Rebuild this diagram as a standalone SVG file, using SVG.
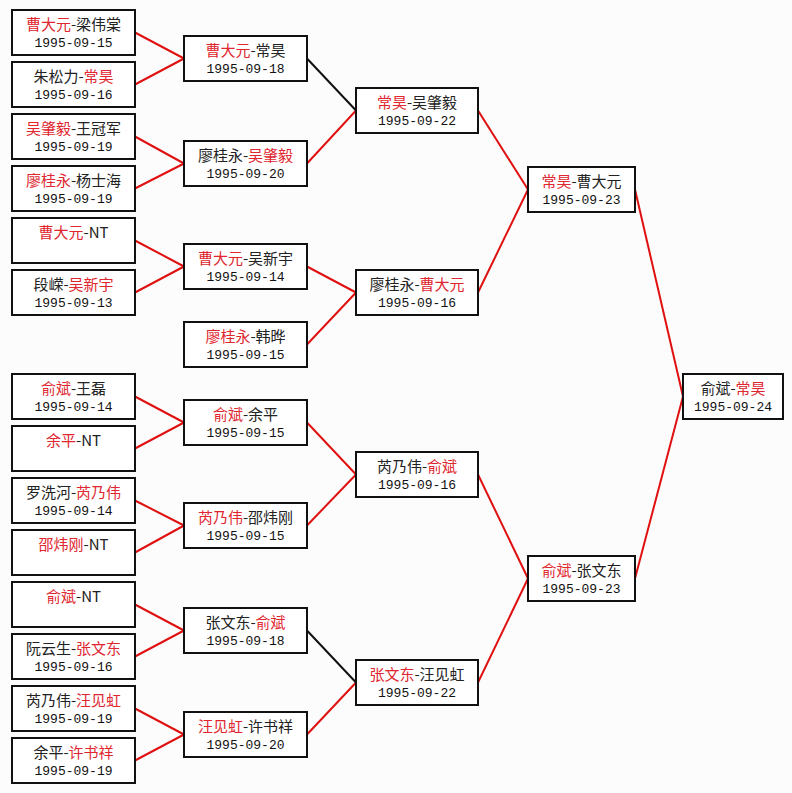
<svg xmlns="http://www.w3.org/2000/svg" width="792" height="793" viewBox="0 0 792 793">
<style>
.bg{fill:#fcfcfc}
.box{fill:#ffffff;stroke:#111111;stroke-width:2}
.nm{font-family:"Noto Sans CJK SC","Noto Sans",sans-serif;font-size:15px;fill:#222222;text-anchor:middle}
.dt{font-family:"Liberation Mono","DejaVu Sans Mono",monospace;font-size:13px;fill:#111111;text-anchor:middle}
.r{fill:#e0262f}
.cr line{stroke:#e01010;stroke-width:2}
.cb line{stroke:#111111;stroke-width:2}
</style>
<rect class="bg" x="0" y="0" width="792" height="793"/>
<g id="connectors">
<g class="cr">
<line x1="135" y1="32.5" x2="184" y2="58.5"/><line x1="135" y1="84.5" x2="184" y2="58.5"/>
<line x1="135" y1="136.5" x2="184" y2="163.5"/><line x1="135" y1="188.5" x2="184" y2="163.5"/>
<line x1="135" y1="240.5" x2="184" y2="266.5"/><line x1="135" y1="292.5" x2="184" y2="266.5"/>
<line x1="135" y1="396.5" x2="184" y2="422.5"/><line x1="135" y1="448.5" x2="184" y2="422.5"/>
<line x1="135" y1="500.5" x2="184" y2="525.5"/><line x1="135" y1="552.5" x2="184" y2="525.5"/>
<line x1="135" y1="604.5" x2="184" y2="630.5"/><line x1="135" y1="656.5" x2="184" y2="630.5"/>
<line x1="135" y1="708.5" x2="184" y2="734.5"/><line x1="135" y1="760.5" x2="184" y2="734.5"/>
<line x1="307" y1="163.5" x2="356" y2="110.5"/>
<line x1="307" y1="266.5" x2="356" y2="292.5"/><line x1="307" y1="344.5" x2="356" y2="292.5"/>
<line x1="307" y1="422.5" x2="356" y2="474.5"/><line x1="307" y1="525.5" x2="356" y2="474.5"/>
<line x1="307" y1="734.5" x2="356" y2="682.5"/>
<line x1="478" y1="110.5" x2="528" y2="189.5"/><line x1="478" y1="292.5" x2="528" y2="189.5"/>
<line x1="478" y1="474.5" x2="528" y2="578.5"/><line x1="478" y1="682.5" x2="528" y2="578.5"/>
<line x1="635" y1="189.5" x2="683" y2="396.5"/><line x1="635" y1="578.5" x2="683" y2="396.5"/>
</g>
<g class="cb">
<line x1="307" y1="58.5" x2="356" y2="110.5"/>
<line x1="307" y1="630.5" x2="356" y2="682.5"/>
</g>
</g>
<g id="r1-1"><rect class="box" x="12" y="10" width="123" height="45"/><text class="nm" x="73.5" y="30"><tspan class="r">曹大元</tspan>-梁伟棠</text><text class="dt" x="73.5" y="47">1995-09-15</text></g>
<g id="r1-2"><rect class="box" x="12" y="62" width="123" height="45"/><text class="nm" x="73.5" y="82">朱松力-<tspan class="r">常昊</tspan></text><text class="dt" x="73.5" y="99">1995-09-16</text></g>
<g id="r1-3"><rect class="box" x="12" y="114" width="123" height="45"/><text class="nm" x="73.5" y="134"><tspan class="r">吴肇毅</tspan>-王冠军</text><text class="dt" x="73.5" y="151">1995-09-19</text></g>
<g id="r1-4"><rect class="box" x="12" y="166" width="123" height="45"/><text class="nm" x="73.5" y="186"><tspan class="r">廖桂永</tspan>-杨士海</text><text class="dt" x="73.5" y="203">1995-09-19</text></g>
<g id="r1-5"><rect class="box" x="12" y="218" width="123" height="45"/><text class="nm" x="73.5" y="238"><tspan class="r">曹大元</tspan>-NT</text></g>
<g id="r1-6"><rect class="box" x="12" y="270" width="123" height="45"/><text class="nm" x="73.5" y="290">段嵘-<tspan class="r">吴新宇</tspan></text><text class="dt" x="73.5" y="307">1995-09-13</text></g>
<g id="r1-7"><rect class="box" x="12" y="374" width="123" height="45"/><text class="nm" x="73.5" y="394"><tspan class="r">俞斌</tspan>-王磊</text><text class="dt" x="73.5" y="411">1995-09-14</text></g>
<g id="r1-8"><rect class="box" x="12" y="426" width="123" height="45"/><text class="nm" x="73.5" y="446"><tspan class="r">余平</tspan>-NT</text></g>
<g id="r1-9"><rect class="box" x="12" y="478" width="123" height="45"/><text class="nm" x="73.5" y="498">罗洗河-<tspan class="r">芮乃伟</tspan></text><text class="dt" x="73.5" y="515">1995-09-14</text></g>
<g id="r1-10"><rect class="box" x="12" y="530" width="123" height="45"/><text class="nm" x="73.5" y="550"><tspan class="r">邵炜刚</tspan>-NT</text></g>
<g id="r1-11"><rect class="box" x="12" y="582" width="123" height="45"/><text class="nm" x="73.5" y="602"><tspan class="r">俞斌</tspan>-NT</text></g>
<g id="r1-12"><rect class="box" x="12" y="634" width="123" height="45"/><text class="nm" x="73.5" y="654">阮云生-<tspan class="r">张文东</tspan></text><text class="dt" x="73.5" y="671">1995-09-16</text></g>
<g id="r1-13"><rect class="box" x="12" y="686" width="123" height="45"/><text class="nm" x="73.5" y="706">芮乃伟-<tspan class="r">汪见虹</tspan></text><text class="dt" x="73.5" y="723">1995-09-19</text></g>
<g id="r1-14"><rect class="box" x="12" y="738" width="123" height="45"/><text class="nm" x="73.5" y="758">余平-<tspan class="r">许书祥</tspan></text><text class="dt" x="73.5" y="775">1995-09-19</text></g>
<g id="r2-1"><rect class="box" x="184" y="36" width="123" height="45"/><text class="nm" x="245.5" y="56"><tspan class="r">曹大元</tspan>-常昊</text><text class="dt" x="245.5" y="73">1995-09-18</text></g>
<g id="r2-2"><rect class="box" x="184" y="141" width="123" height="45"/><text class="nm" x="245.5" y="161">廖桂永-<tspan class="r">吴肇毅</tspan></text><text class="dt" x="245.5" y="178">1995-09-20</text></g>
<g id="r2-3"><rect class="box" x="184" y="244" width="123" height="45"/><text class="nm" x="245.5" y="264"><tspan class="r">曹大元</tspan>-吴新宇</text><text class="dt" x="245.5" y="281">1995-09-14</text></g>
<g id="r2-4"><rect class="box" x="184" y="322" width="123" height="45"/><text class="nm" x="245.5" y="342"><tspan class="r">廖桂永</tspan>-韩晔</text><text class="dt" x="245.5" y="359">1995-09-15</text></g>
<g id="r2-5"><rect class="box" x="184" y="400" width="123" height="45"/><text class="nm" x="245.5" y="420"><tspan class="r">俞斌</tspan>-余平</text><text class="dt" x="245.5" y="437">1995-09-15</text></g>
<g id="r2-6"><rect class="box" x="184" y="503" width="123" height="45"/><text class="nm" x="245.5" y="523"><tspan class="r">芮乃伟</tspan>-邵炜刚</text><text class="dt" x="245.5" y="540">1995-09-15</text></g>
<g id="r2-7"><rect class="box" x="184" y="608" width="123" height="45"/><text class="nm" x="245.5" y="628">张文东-<tspan class="r">俞斌</tspan></text><text class="dt" x="245.5" y="645">1995-09-18</text></g>
<g id="r2-8"><rect class="box" x="184" y="712" width="123" height="45"/><text class="nm" x="245.5" y="732"><tspan class="r">汪见虹</tspan>-许书祥</text><text class="dt" x="245.5" y="749">1995-09-20</text></g>
<g id="r3-1"><rect class="box" x="356" y="88" width="122" height="45"/><text class="nm" x="417" y="108"><tspan class="r">常昊</tspan>-吴肇毅</text><text class="dt" x="417" y="125">1995-09-22</text></g>
<g id="r3-2"><rect class="box" x="356" y="270" width="122" height="45"/><text class="nm" x="417" y="290">廖桂永-<tspan class="r">曹大元</tspan></text><text class="dt" x="417" y="307">1995-09-16</text></g>
<g id="r3-3"><rect class="box" x="356" y="452" width="122" height="45"/><text class="nm" x="417" y="472">芮乃伟-<tspan class="r">俞斌</tspan></text><text class="dt" x="417" y="489">1995-09-16</text></g>
<g id="r3-4"><rect class="box" x="356" y="660" width="122" height="45"/><text class="nm" x="417" y="680"><tspan class="r">张文东</tspan>-汪见虹</text><text class="dt" x="417" y="697">1995-09-22</text></g>
<g id="r4-1"><rect class="box" x="528" y="167" width="107" height="45"/><text class="nm" x="581.5" y="187"><tspan class="r">常昊</tspan>-曹大元</text><text class="dt" x="581.5" y="204">1995-09-23</text></g>
<g id="r4-2"><rect class="box" x="528" y="556" width="107" height="45"/><text class="nm" x="581.5" y="576"><tspan class="r">俞斌</tspan>-张文东</text><text class="dt" x="581.5" y="593">1995-09-23</text></g>
<g id="r5-1"><rect class="box" x="683" y="374" width="100" height="45"/><text class="nm" x="733" y="394">俞斌-<tspan class="r">常昊</tspan></text><text class="dt" x="733" y="411">1995-09-24</text></g>
</svg>
